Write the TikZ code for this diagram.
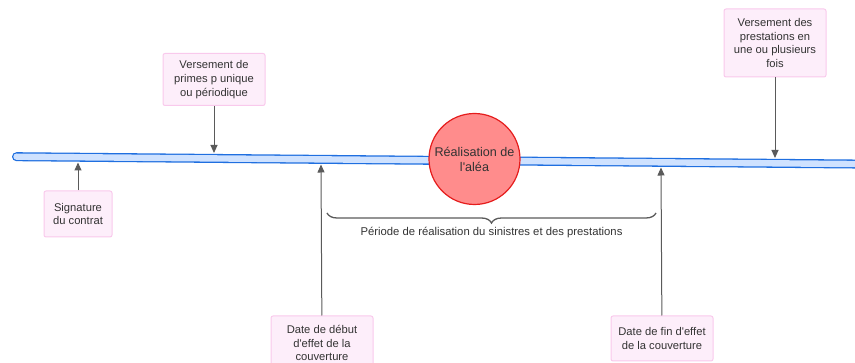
\documentclass[tikz,border=0pt]{standalone}
\usepackage{fontspec}
\setmainfont{Liberation Sans}
\usetikzlibrary{arrows.meta,decorations.pathreplacing}

\definecolor{boxfill}{HTML}{FDEEFA}
\definecolor{boxline}{HTML}{F9C9EC}
\definecolor{barfill}{HTML}{CFE2FF}
\definecolor{barline}{HTML}{1F6FE0}
\definecolor{aleafill}{HTML}{FF8C8C}
\definecolor{alealine}{HTML}{E51C1C}
\definecolor{txt}{HTML}{333333}
\definecolor{arr}{HTML}{5A5A5A}

\tikzstyle{event}=[draw=boxline, fill=boxfill, rounded corners=2pt, line width=1pt, align=center, text=txt, font=\fontsize{11.2}{13.8}\selectfont, inner sep=2pt]
\tikzstyle{pointer}=[draw=arr, line width=1pt, -{Triangle[length=8pt,width=7pt]}]

\begin{document}
\begin{tikzpicture}[x=1pt,y=-1pt]
\useasboundingbox (0,0) rectangle (855,363);

% axe du temps
\coordinate (barL) at (16.5,156.7);
\coordinate (barR) at (875,164.2);
\draw[line width=9pt, barline, line cap=round] (barL) -- (barR);
\draw[line width=6.4pt, barfill, line cap=round] (barL) -- (barR);

\node[draw=alealine, fill=aleafill, circle, line width=1.2pt, minimum size=91pt, inner sep=0pt, align=center, text=txt, font=\fontsize{12.6}{15}\selectfont] (alea) at (474.5,159) {Réalisation de\\l\textquotesingle aléa};

\node[event, minimum width=68pt, minimum height=46pt] (signature) at (78,214) {Signature\\du contrat};
\node[event, minimum width=102pt, minimum height=52pt] (primes) at (214,79.5) {Versement de\\primes p unique\\ou périodique};
\node[event, minimum width=102pt, minimum height=54pt] (debut) at (322,343) {Date de début\\d\textquotesingle effet de la\\couverture};
\node[event, minimum width=102pt, minimum height=45pt] (fin) at (662,338.5) {Date de fin d\textquotesingle effet\\de la couverture};
\node[event, minimum width=102pt, minimum height=68pt] (prestations) at (775,43) {Versement des\\prestations en\\une ou plusieurs\\fois};

% points sur l'axe
\coordinate (tSignature) at (78,162.5);
\coordinate (tPrimes) at (214,153);
\coordinate (tDebut) at (321,164.5);
\coordinate (tFin) at (661,167.5);
\coordinate (tPrestations) at (775,158);

\draw[pointer] (signature) -- (tSignature);
\draw[pointer] (primes) -- (tPrimes);
\draw[pointer] (debut) -- (tDebut);
\draw[pointer] (fin) -- (tFin);
\draw[pointer] (prestations) -- (tPrestations);

% periode
\coordinate (pStart) at (327,213);
\coordinate (pEnd) at (656,213);
\draw[arr, line width=1.3pt, decorate, decoration={brace, mirror, amplitude=10pt}] (pStart) -- (pEnd);
\node[text=txt, font=\fontsize{11.3}{13}\selectfont] (periode) at (491.5,233) {Période de réalisation du sinistres et des prestations};
\end{tikzpicture}
\end{document}
